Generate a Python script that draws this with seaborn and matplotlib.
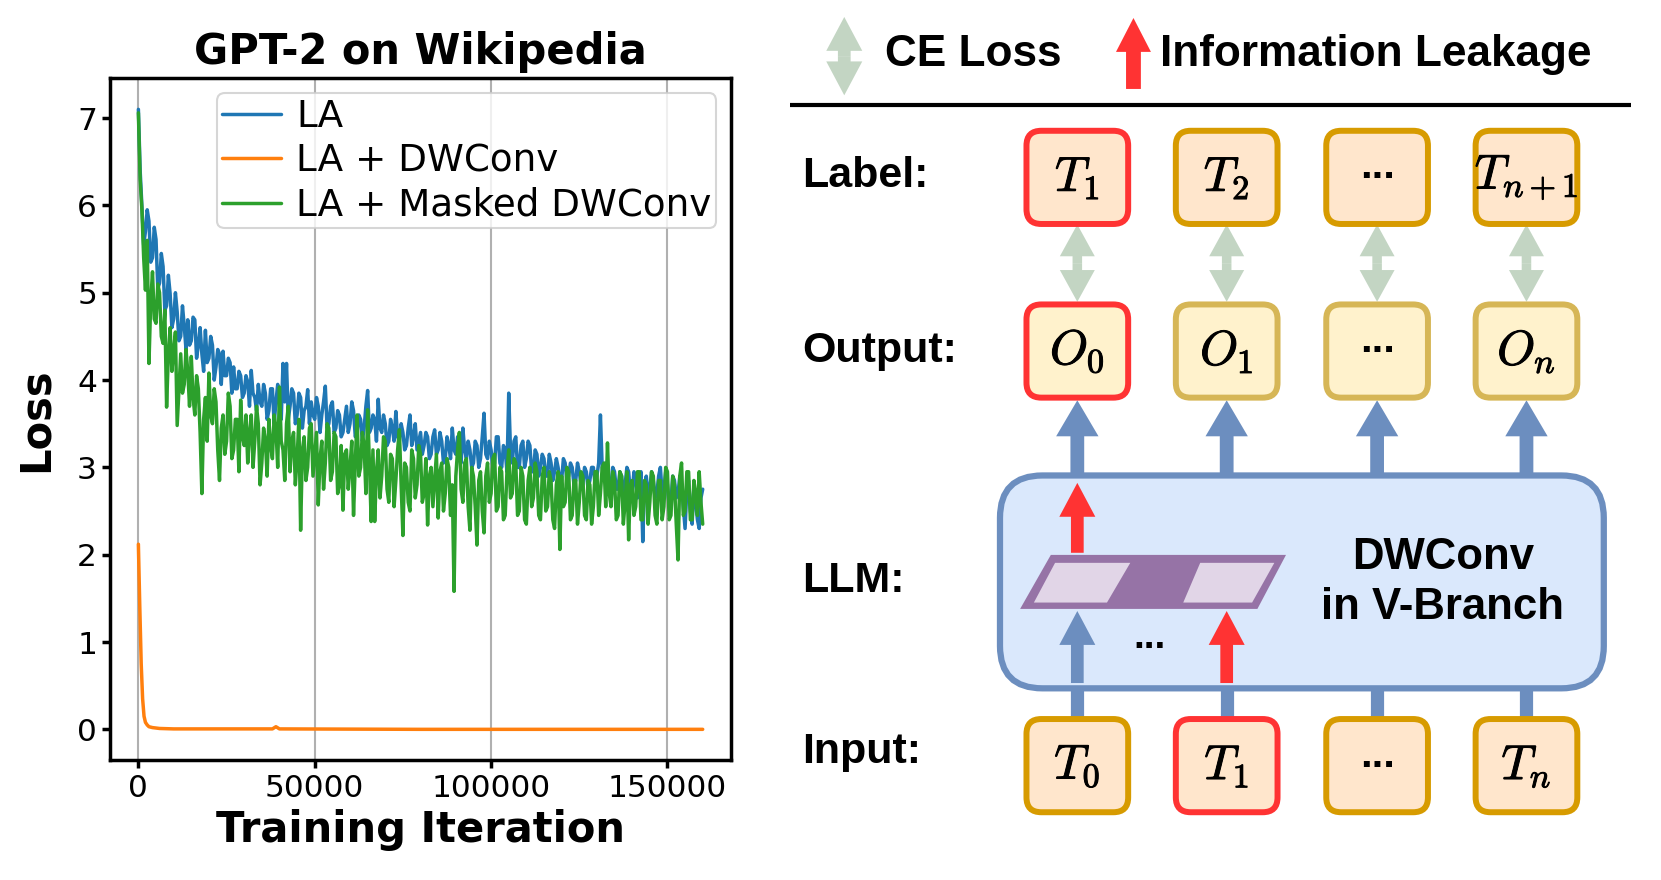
import numpy as np
import matplotlib
matplotlib.use("Agg")
import matplotlib.pyplot as plt
import matplotlib.patheffects as pe
import seaborn as sns
from matplotlib.patches import FancyBboxPatch, FancyArrow, Polygon

# ---- loss curves (one value per 500 iterations) ----
iters = np.arange(0, 160001, 500)

la_loss = [
    7.10, 6.40, 5.99, 5.55, 5.70, 5.95, 5.82, 5.35, 5.40, 5.75,
    5.61, 5.05, 5.11, 5.45, 5.30, 4.80, 4.85, 5.20, 4.99, 4.60,
    4.70, 5.00, 4.78, 4.45, 4.50, 4.85, 4.62, 4.35, 4.69, 4.40,
    4.45, 4.72, 4.69, 4.25, 4.40, 4.60, 4.30, 4.10, 4.57, 4.20,
    4.25, 4.50, 4.40, 4.00, 4.15, 4.35, 4.30, 3.95, 4.33, 4.05,
    4.05, 4.25, 4.20, 3.85, 4.15, 3.90, 3.90, 4.10, 4.05, 3.80,
    3.85, 4.05, 3.98, 3.70, 4.11, 3.85, 3.80, 3.65, 3.95, 3.75,
    3.70, 3.95, 3.85, 3.55, 3.65, 3.90, 3.90, 3.50, 3.75, 3.95,
    3.70, 3.55, 4.19, 3.75, 4.19, 3.55, 3.70, 3.90, 3.85, 3.50,
    3.60, 3.85, 3.80, 3.45, 3.65, 3.70, 3.89, 3.50, 3.75, 3.60,
    3.55, 3.80, 3.70, 3.40, 3.60, 3.75, 3.93, 3.45, 3.50, 3.70,
    3.75, 3.40, 3.45, 3.65, 3.60, 3.35, 3.40, 3.55, 3.70, 3.40,
    3.50, 3.75, 3.65, 3.35, 3.40, 3.60, 3.55, 3.30, 3.45, 3.70,
    3.88, 3.40, 3.45, 3.60, 3.55, 3.30, 3.78, 3.45, 3.40, 3.60,
    3.50, 3.25, 3.30, 3.55, 3.45, 3.30, 3.64, 3.35, 3.30, 3.50,
    3.40, 3.20, 3.25, 3.45, 3.60, 3.25, 3.35, 3.50, 3.20, 3.30,
    3.40, 3.15, 3.25, 3.40, 3.35, 3.10, 3.15, 3.35, 3.43, 3.15,
    3.20, 3.40, 3.30, 3.05, 3.10, 3.35, 3.25, 3.10, 3.45, 3.20,
    3.15, 3.35, 3.30, 3.05, 3.45, 3.20, 3.10, 3.30, 3.20, 3.00,
    3.05, 3.30, 3.25, 3.00, 3.10, 3.35, 3.62, 3.15, 3.10, 3.30,
    3.20, 3.00, 3.05, 3.35, 3.35, 3.05, 3.00, 3.25, 3.20, 2.95,
    3.85, 3.20, 3.05, 3.30, 3.35, 3.00, 3.00, 3.25, 3.30, 3.00,
    3.10, 3.30, 3.25, 2.95, 2.95, 3.20, 3.15, 2.90, 3.00, 3.15,
    3.10, 2.90, 2.90, 3.15, 3.05, 2.85, 2.95, 3.10, 3.00, 2.85,
    2.85, 3.10, 3.05, 2.85, 2.90, 3.05, 3.00, 2.80, 2.85, 3.05,
    2.95, 2.80, 2.80, 3.00, 2.95, 2.75, 2.85, 3.00, 3.00, 2.80,
    2.90, 3.05, 3.60, 3.00, 2.85, 3.05, 2.95, 2.80, 2.80, 3.00,
    2.95, 2.75, 2.75, 2.95, 2.90, 2.70, 2.80, 3.00, 2.95, 2.70,
    2.70, 2.95, 2.85, 2.65, 2.75, 2.95, 2.15, 2.80, 2.90, 2.70,
    2.75, 2.95, 2.85, 2.65, 2.70, 2.90, 3.00, 2.70, 2.75, 2.95,
    2.80, 2.55, 2.60, 2.90, 2.85, 2.65, 2.70, 2.90, 2.80, 2.55,
    2.30, 2.75, 2.85, 2.50, 2.35, 2.80, 2.60, 2.40, 2.30, 2.65,
    2.75,
]

masked_loss = [
    7.06, 6.30, 5.95, 5.40, 5.03, 5.60, 4.19, 4.90, 5.24, 4.70,
    4.65, 5.10, 5.00, 4.50, 4.42, 4.80, 3.69, 4.30, 4.60, 4.10,
    4.34, 4.55, 3.48, 3.90, 4.30, 3.85, 3.95, 4.35, 4.10, 3.70,
    4.27, 3.80, 3.60, 4.05, 3.90, 3.40, 2.70, 3.55, 3.80, 3.30,
    4.08, 3.60, 3.50, 3.90, 3.75, 3.20, 2.85, 3.45, 3.60, 3.15,
    3.30, 3.85, 3.70, 3.10, 3.20, 3.55, 3.55, 2.95, 3.77, 3.35,
    3.25, 3.60, 3.05, 3.40, 3.60, 3.00, 3.30, 3.70, 3.50, 2.80,
    3.05, 3.45, 3.31, 2.90, 3.55, 3.25, 3.10, 3.60, 3.45, 3.00,
    3.92, 3.30, 3.20, 2.85, 3.50, 3.70, 2.95, 3.30, 3.40, 2.80,
    3.10, 3.55, 2.28, 3.20, 3.35, 2.85, 3.00, 3.45, 3.50, 2.90,
    3.15, 3.40, 2.57, 3.10, 3.30, 2.75, 3.05, 3.50, 3.45, 2.85,
    2.95, 3.40, 3.35, 2.70, 2.80, 3.25, 2.51, 3.15, 3.20, 2.75,
    3.00, 3.30, 2.45, 3.05, 3.60, 2.90, 3.00, 3.40, 3.25, 2.70,
    3.66, 3.05, 2.38, 3.20, 2.38, 2.95, 3.20, 2.65, 2.90, 3.35,
    3.30, 2.75, 2.60, 3.15, 3.10, 2.55, 2.85, 3.20, 3.43, 2.80,
    2.22, 3.05, 3.00, 2.60, 2.50, 3.20, 3.10, 2.65, 2.80, 3.25,
    3.15, 2.60, 2.70, 3.10, 2.34, 2.90, 3.00, 2.55, 2.85, 3.15,
    2.42, 2.95, 3.05, 2.50, 2.70, 3.10, 3.00, 2.45, 2.80, 1.58,
    2.90, 3.20, 3.40, 2.75, 2.60, 3.05, 3.10, 2.55, 2.28, 3.00,
    2.90, 2.55, 2.11, 2.85, 2.95, 2.50, 2.25, 2.90, 3.05, 2.60,
    2.70, 3.10, 3.15, 2.50, 2.55, 3.00, 2.95, 2.40, 2.45, 2.95,
    3.20, 2.65, 2.70, 3.10, 3.05, 2.45, 2.50, 3.00, 2.90, 2.40,
    2.35, 2.85, 3.00, 2.55, 2.65, 3.05, 2.95, 2.45, 2.40, 2.90,
    3.00, 2.50, 2.55, 2.95, 2.85, 2.40, 2.30, 2.80, 2.95, 2.06,
    2.90, 2.55, 2.60, 3.00, 2.95, 2.40, 2.45, 2.85, 2.85, 2.35,
    2.60, 2.95, 2.90, 2.45, 2.40, 2.85, 2.80, 2.35, 2.55, 2.95,
    2.95, 2.45, 2.70, 3.00, 3.05, 2.55, 3.28, 2.70, 2.55, 2.95,
    2.85, 2.40, 2.45, 2.95, 2.90, 2.35, 2.60, 2.95, 2.17, 2.80,
    2.85, 2.45, 2.55, 2.95, 2.95, 2.40, 2.40, 2.85, 2.80, 2.35,
    2.60, 2.95, 2.90, 2.45, 2.35, 2.85, 2.85, 2.40, 2.55, 3.00,
    2.95, 2.40, 2.45, 2.90, 2.80, 2.35, 1.94, 2.90, 3.05, 2.45,
    2.50, 2.95, 2.95, 2.40, 2.40, 2.85, 2.70, 2.45, 2.95, 2.60,
    2.35,
]

dwconv_iters = [0, 400, 800, 1200, 1600, 2000, 2500, 3000, 4000, 6000,
                10000, 38000, 39000, 40000, 80000, 120000, 160000]
dwconv_loss = [2.12, 1.40, 0.75, 0.35, 0.15, 0.08, 0.05, 0.03, 0.02, 0.01,
               0.005, 0.005, 0.03, 0.005, 0.0, 0.0, 0.0]

series_names = ["LA", "LA + DWConv", "LA + Masked DWConv"]
series_colors = ["#1f77b4", "#ff7f0e", "#2ca02c"]

# ---- diagram content ----
row_names = ["Label:", "Output:", "LLM:", "Input:"]
label_tokens = [r"$T_1$", r"$T_2$", "...", r"$T_{n+1}$"]
output_tokens = [r"$O_0$", r"$O_1$", "...", r"$O_n$"]
input_tokens = [r"$T_0$", r"$T_1$", "...", r"$T_n$"]
label_leak = [True, False, False, False]
output_leak = [True, False, False, False]
input_leak = [False, True, False, False]

sns.set_theme(style="ticks")
plt.rcParams["font.family"] = ["DejaVu Sans"]
plt.rcParams["mathtext.fontset"] = "cm"
for key in ["text.color", "axes.labelcolor", "xtick.color", "ytick.color",
            "axes.edgecolor"]:
    plt.rcParams[key] = "black"

W, H = 1568, 831  # working canvas units for the diagram
fig = plt.figure(figsize=(16.61, 8.80), dpi=100)

# diagram canvas
dg = fig.add_axes([0, 0, 1, 1])
dg.set_xlim(0, W)
dg.set_ylim(H, 0)
dg.axis("off")

# loss plot
ax = fig.add_axes([104 / W, 1 - 718 / H, (690 - 104) / W, (718 - 74) / H])
sns.lineplot(x=iters, y=la_loss, ax=ax, color=series_colors[0], lw=2.5,
             label=series_names[0])
sns.lineplot(x=dwconv_iters, y=dwconv_loss, ax=ax, color=series_colors[1], lw=2.5,
             label=series_names[1])
sns.lineplot(x=iters, y=masked_loss, ax=ax, color=series_colors[2], lw=2.5,
             label=series_names[2])

ax.set_xticks([0, 50000, 100000, 150000])
ax.set_yticks(range(0, 8))
ax.grid(axis="x", color="#b0b0b0", lw=1.5)
ax.grid(axis="y", visible=False)
for sp in ax.spines.values():
    sp.set_linewidth(2.5)
ax.tick_params(labelsize=22.5, width=2.5, length=6)
ax.set_title("GPT-2 on Wikipedia", fontsize=30, fontweight="bold", pad=10)
ax.set_xlabel("Training Iteration", fontsize=30, fontweight="bold", labelpad=5)
ax.set_ylabel("Loss", fontsize=30, fontweight="bold", labelpad=15)
leg = ax.legend(loc="upper right", fontsize=26.8, handlelength=1.6,
                borderpad=0.12, labelspacing=0.2, handletextpad=0.4,
                borderaxespad=0.4)
leg.get_frame().set_linewidth(1.5)
for line in leg.get_lines():
    line.set_linewidth(2.5)

# ---- diagram drawing ----
sans = "Liberation Sans"
col_x = [1017, 1158, 1300, 1441]
row_y = {"label": 167.5, "output": 331.5, "llm": 549, "input": 723}
name_y = [166, 331, 549, 710]
box_w, box_h = 96, 88

red = "#ff3333"
blue = "#6c8ebf"
sage = "#c3d5c3"
thick = [pe.withStroke(linewidth=0.7, foreground="black")]


def up_arrow(x, y_tail, y_tip, color, width=13, hw=40, hl=34, z=1):
    dg.add_patch(FancyArrow(x, y_tail, 0, y_tip - y_tail, width=width,
                            head_width=hw, head_length=hl,
                            length_includes_head=True, color=color, lw=0,
                            zorder=z))


def double_arrow(x, y_top, y_bot, width=9, hw=33, hl=30):
    mid = (y_top + y_bot) / 2
    for end in (y_top, y_bot):
        dg.add_patch(FancyArrow(x, mid, 0, end - mid, width=width,
                                head_width=hw, head_length=hl,
                                length_includes_head=True, color=sage, lw=0,
                                zorder=1))


def token_box(cx, cy, text, fill, edge):
    dg.add_patch(FancyBboxPatch((cx - box_w / 2, cy - box_h / 2), box_w, box_h,
                                boxstyle="round,pad=0,rounding_size=14",
                                fc=fill, ec=edge, lw=4.3, zorder=3))
    if text == "...":
        dg.text(cx, cy + 1, "...", ha="center", va="baseline", fontsize=30,
                fontweight="bold", family=sans, zorder=4)
    else:
        dg.text(cx, cy, text, ha="center", va="center", fontsize=35, zorder=4,
                path_effects=thick)


# header legend
double_arrow(797, 16, 90, width=12, hw=34, hl=32)
dg.text(835, 51, "CE Loss", ha="left", va="center", fontsize=31.8,
        fontweight="bold", family=sans)
up_arrow(1070, 84, 17, red, width=14, hw=33, hl=32, z=2)
dg.text(1095, 51, "Information Leakage", ha="left", va="center", fontsize=31.8,
        fontweight="bold", family=sans)
dg.plot([746, 1540], [99, 99], color="black", lw=3, solid_capstyle="butt")

# row names
for name, y in zip(row_names, name_y):
    dg.text(757, y, name, ha="left", va="center", fontsize=31,
            fontweight="bold", family=sans)

# token rows
for i, cx in enumerate(col_x):
    token_box(cx, row_y["label"], label_tokens[i], "#ffe6cc",
              red if label_leak[i] else "#d79b00")
    token_box(cx, row_y["output"], output_tokens[i], "#fff2cc",
              red if output_leak[i] else "#d6b656")
    token_box(cx, row_y["input"], input_tokens[i], "#ffe6cc",
              red if input_leak[i] else "#d79b00")
    double_arrow(cx, 212, 285)
    up_arrow(cx, 480, 378, blue)
    dg.plot([cx, cx], [640, 682], color=blue, lw=9.5, solid_capstyle="butt",
            zorder=1)

# LLM block
dg.add_patch(FancyBboxPatch((944, 449), 570, 201,
                            boxstyle="round,pad=0,rounding_size=40",
                            fc="#dae8fc", ec=blue, lw=4.5, zorder=2))
dg.add_patch(Polygon([(963, 575), (992, 524), (1214, 524), (1187, 575)],
                     closed=True, fc="#9673a6", ec="none", zorder=3))
dg.add_patch(Polygon([(976, 569), (996, 531.5), (1067, 531.5), (1045, 569)],
                     closed=True, fc="#e1d5e7", ec="none", zorder=4))
dg.add_patch(Polygon([(1117, 569), (1133, 531.5), (1203, 531.5), (1182, 569)],
                     closed=True, fc="#e1d5e7", ec="none", zorder=4))
up_arrow(col_x[0], 522, 456, red, width=12, hw=34, hl=32, z=4)
up_arrow(col_x[0], 645, 577, blue, width=12, hw=34, hl=32, z=4)
up_arrow(col_x[1], 645, 577, red, width=12, hw=34, hl=32, z=4)
dg.text(1085, 612, "...", ha="center", va="baseline", fontsize=28,
        fontweight="bold", family=sans, zorder=4)
dg.text(1362, 550, "DWConv\nin V-Branch", ha="center", va="center",
        fontsize=31.5, fontweight="bold", family=sans, linespacing=1.3, zorder=4)

fig.savefig("out.png", dpi=100)
